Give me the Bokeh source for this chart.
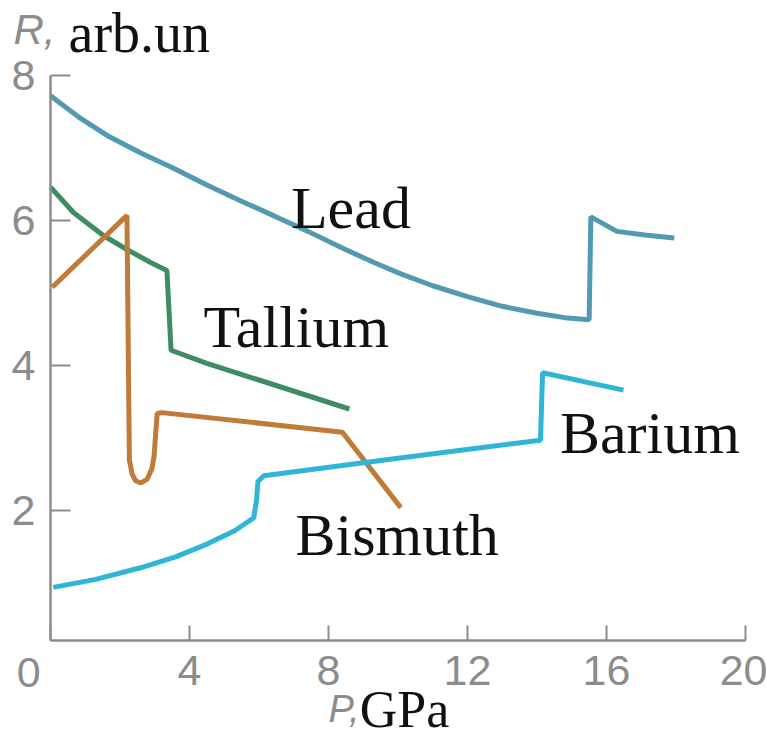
from bokeh.plotting import figure
from bokeh.models import Range1d, FixedTicker, Label
from bokeh.embed import file_html
from bokeh.resources import INLINE

# ---- data ----
lead_p = [0.0, 0.8, 1.64, 2.6, 3.54, 4.5, 5.48, 6.45, 7.41, 8.35, 9.31, 10.1, 11.0, 12.0, 12.97, 14.0, 14.8, 15.5, 15.55, 16.3, 17.1, 17.95]
lead_r = [7.72, 7.43, 7.17, 6.93, 6.72, 6.49, 6.27, 6.06, 5.85, 5.63, 5.42, 5.26, 5.1, 4.95, 4.82, 4.72, 4.66, 4.63, 6.05, 5.85, 5.8, 5.76]

tl_p = [0.0, 0.66, 1.53, 2.2, 2.88, 3.35, 3.47, 4.5, 6.0, 7.3, 8.6]
tl_r = [6.46, 6.11, 5.79, 5.6, 5.42, 5.31, 4.21, 4.03, 3.8, 3.6, 3.4]

bi_p = [0.05, 2.2, 2.27, 2.35, 2.45, 2.6, 2.78, 2.92, 2.98, 3.07, 3.2, 8.4, 10.08]
bi_r = [5.08, 6.07, 2.7, 2.5, 2.41, 2.38, 2.43, 2.58, 2.75, 3.34, 3.35, 3.08, 2.04]

ba_p = [0.08, 1.3, 2.59, 3.6, 4.52, 5.3, 5.85, 5.93, 5.97, 6.14, 10.0, 14.1, 14.16, 16.49]
ba_r = [0.94, 1.05, 1.21, 1.36, 1.54, 1.72, 1.9, 2.15, 2.4, 2.48, 2.72, 2.97, 3.9, 3.66]

x_ticks = [0, 4, 8, 12, 16, 20]
y_ticks = [2, 4, 6, 8]
x_bounds = (0, 20)
y_bounds = (0.207, 8)

names = ["Lead", "Tallium", "Barium", "Bismuth"]
name_p = [6.92, 4.40, 14.66, 7.05]
name_r = [5.9, 4.25, 2.79, 1.38]

GRAY = "#8c8c8c"

W, H = 767, 742
PX_X, PX_Y = 34.75, 72.5          # pixels per data unit
X0_PX, Y8_PX = 50, 75             # pixel of P=0 and of R=8
x_range = Range1d(-X0_PX / PX_X, (W - X0_PX) / PX_X)
y_range = Range1d(8 - (H - Y8_PX) / PX_Y, 8 + Y8_PX / PX_Y)
SHIFT = 20 / PX_Y                 # baseline correction for labels

p = figure(width=W, height=H, x_range=x_range, y_range=y_range,
           output_backend="svg", toolbar_location=None, min_border=0)
p.grid.visible = False
p.outline_line_color = None

for ax in (p.xaxis, p.yaxis):
    ax.axis_line_color = GRAY
    ax.axis_line_width = 2.5
    ax.major_tick_line_color = GRAY
    ax.major_tick_line_width = 2
    ax.major_tick_out = 0
    ax.minor_tick_line_color = None
    ax.major_label_text_color = GRAY
    ax.major_label_text_font = "Liberation Sans"
    ax.major_label_text_font_size = "43px"

p.xaxis.fixed_location = y_bounds[0]
p.xaxis.bounds = x_bounds
p.xaxis.ticker = FixedTicker(ticks=x_ticks)
p.xaxis.major_label_overrides = {0: ""}
p.xaxis.major_tick_in = 15
p.xaxis.major_label_standoff = 16

p.yaxis.fixed_location = x_bounds[0]
p.yaxis.bounds = y_bounds
p.yaxis.ticker = FixedTicker(ticks=y_ticks)
p.yaxis.major_tick_in = 20
p.yaxis.major_label_standoff = 15

p.line(lead_p, lead_r, line_color="#5299b2", line_width=5)
p.line(tl_p, tl_r, line_color="#3f8c62", line_width=5)
p.line(bi_p, bi_r, line_color="#c07a3a", line_width=5)
p.line(ba_p, ba_r, line_color="#2fb6d6", line_width=5)

for n, x, y in zip(names, name_p, name_r):
    p.add_layout(Label(x=x, y=y + SHIFT, text=n, text_font="Liberation Serif", text_font_size="60px",
                       text_color="#111111", text_align="left", text_baseline="alphabetic"))

# origin label
p.add_layout(Label(x=-0.63, y=-0.04, text="0", text_font="Liberation Sans", text_font_size="43px",
                   text_color=GRAY, text_align="center", text_baseline="top"))

# axis titles
p.add_layout(Label(x=-1.065, y=8.36 + SHIFT, text="R,", text_font="Liberation Sans", text_font_style="italic",
                   text_font_size="42px", text_color=GRAY, text_align="left", text_baseline="alphabetic"))
p.add_layout(Label(x=0.52, y=8.317 + SHIFT, text="arb.un", text_font="Liberation Serif",
                   text_font_size="56px", text_color="#111111", text_align="left", text_baseline="alphabetic"))
p.add_layout(Label(x=8.0, y=-1.02 + SHIFT, text="P,", text_font="Liberation Sans", text_font_style="italic",
                   text_font_size="38px", text_color=GRAY, text_align="left", text_baseline="alphabetic"))
p.add_layout(Label(x=8.9, y=-1.02 + SHIFT, text="GPa", text_font="Liberation Serif",
                   text_font_size="52px", text_color="#111111", text_align="left", text_baseline="alphabetic"))

open("out.html", "w").write(file_html(p, INLINE))
